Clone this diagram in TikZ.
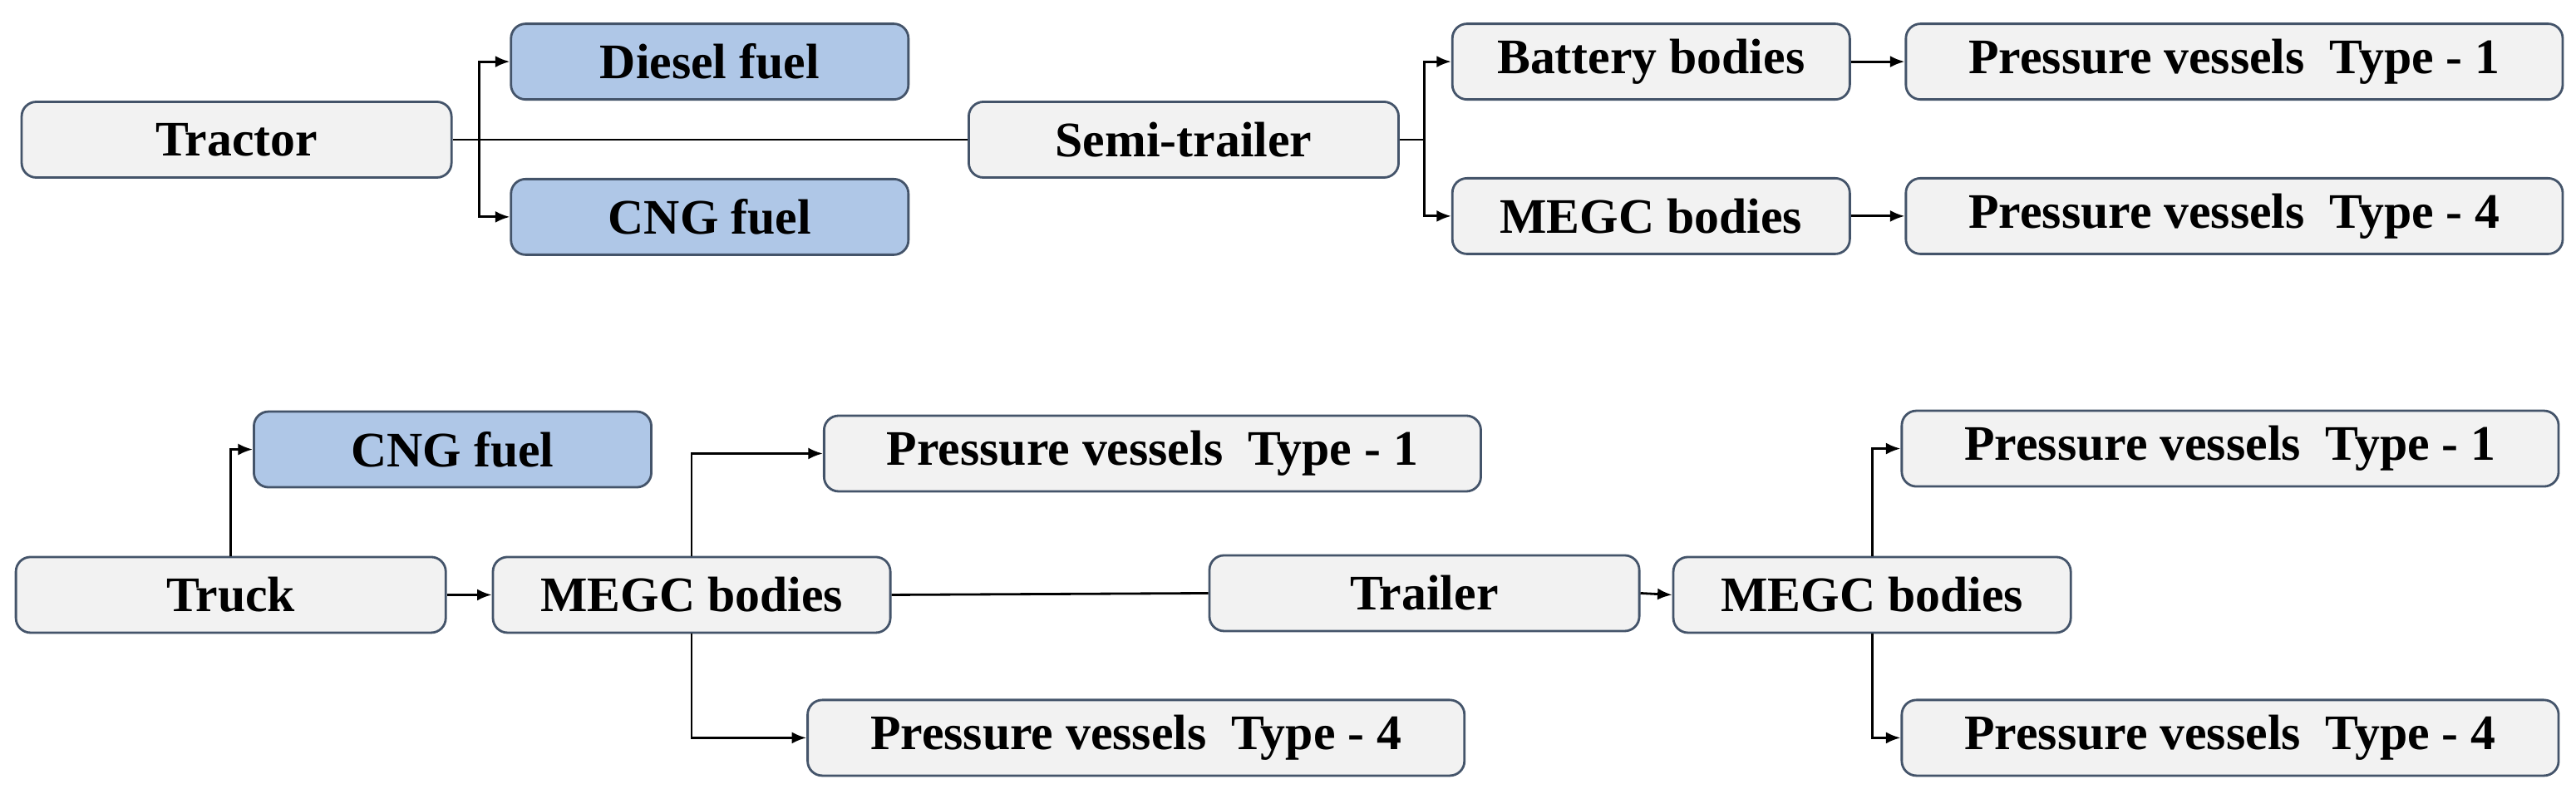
\documentclass[tikz,border=0pt]{standalone}
\usepackage{fontspec}
\setmainfont{Liberation Serif}
\usetikzlibrary{arrows.meta,calc}
\definecolor{boxg}{HTML}{F2F2F2}
\definecolor{boxb}{HTML}{AFC7E7}
\definecolor{edge}{HTML}{44546A}
\begin{document}
\begin{tikzpicture}[x=0.01976cm,y=-0.01976cm,
  box/.style={draw=edge,line width=0.8pt,rounded corners=5pt,fill=boxg,minimum height=0.91cm,inner sep=0pt,font=\fontsize{17}{20}\selectfont\bfseries},
  blue/.style={box,fill=boxb},
  w1/.style={minimum width=5.17cm},
  w2/.style={minimum width=4.78cm},
  w3/.style={minimum width=7.9cm},
  arr/.style={line width=0.8pt,-{Latex[length=5pt,width=4pt]}},
  ln/.style={line width=0.8pt}]
\useasboundingbox (0,0) rectangle (1568,486);
% top
\node[box,w1] (tractor) at (144,85) {Tractor};
\node[blue,w2] (diesel) at (432,37.5) {Diesel fuel};
\node[blue,w2] (cngt) at (432,132) {CNG fuel};
\node[box,w1] (semi) at (720.5,85) {Semi-trailer};
\node[box,w2] (battery) at (1005,37.5) {Battery bodies};
\node[box,w2] (megct) at (1005,131.5) {MEGC bodies};
\node[box,w3] (pv1t) at (1360,37.5) {Pressure vessels\ \ Type - 1};
\node[box,w3] (pv4t) at (1360,131.5) {Pressure vessels\ \ Type - 4};
\draw[ln] (tractor.east) -- (semi.west);
\coordinate (j1) at ($(tractor.east)+(16,0)$);
\draw[arr] (j1) |- (diesel.west);
\draw[arr] (j1) |- (cngt.west);
\coordinate (j2) at ($(semi.east)+(15,0)$);
\draw[ln] (semi.east) -- (j2);
\draw[arr] (j2) |- (battery.west);
\draw[arr] (j2) |- (megct.west);
\draw[arr] (battery.east) -- (pv1t.west);
\draw[arr] (megct.east) -- (pv4t.west);
% bottom
\node[blue,w2] (cngb) at (275.5,273.5) {CNG fuel};
\node[box,w1] (truck) at (140.5,362) {Truck};
\node[box,w2] (megcb) at (421,362) {MEGC bodies};
\node[box,w3] (pv1b) at (701.5,276) {Pressure vessels\ \ Type - 1};
\node[box,w3] (pv4b) at (691.5,449) {Pressure vessels\ \ Type - 4};
\node[box,w1] (trailer) at (867,361) {Trailer};
\node[box,w2] (megcr) at (1139.5,362) {MEGC bodies};
\node[box,w3] (pv1r) at (1357.5,273) {Pressure vessels\ \ Type - 1};
\node[box,w3] (pv4r) at (1357.5,449) {Pressure vessels\ \ Type - 4};
\draw[arr] (truck.north) |- (cngb.west);
\draw[arr] (truck.east) -- (megcb.west);
\draw[arr] (megcb.north) |- (pv1b.west);
\draw[arr] (megcb.south) |- (pv4b.west);
\draw[ln] (megcb.east) -- (trailer.west);
\draw[arr] (trailer.east) -- (megcr.west);
\draw[arr] (megcr.north) |- (pv1r.west);
\draw[arr] (megcr.south) |- (pv4r.west);
\end{tikzpicture}
\end{document}
